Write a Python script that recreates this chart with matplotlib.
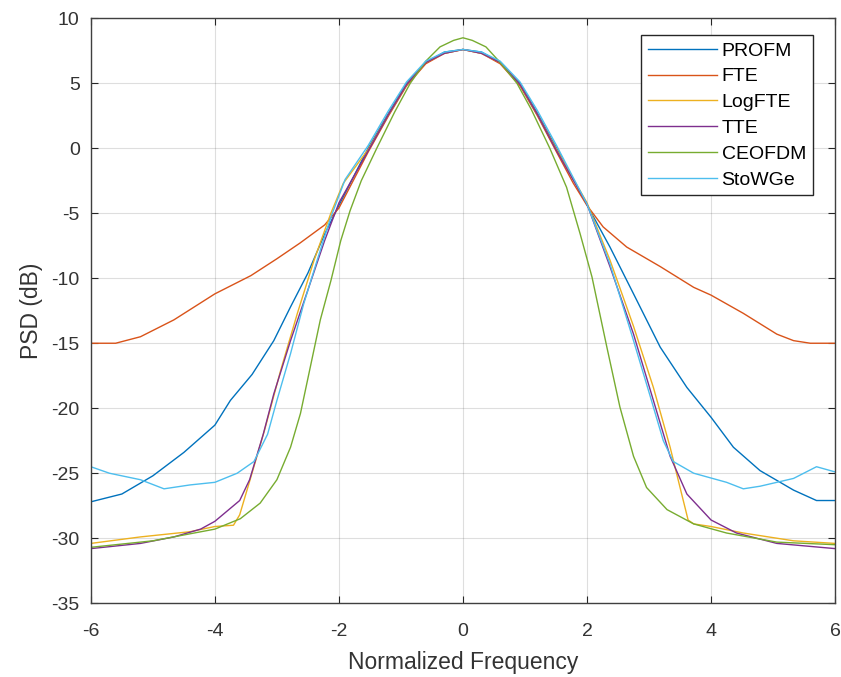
import matplotlib
matplotlib.use("Agg")
import matplotlib.pyplot as plt

plt.rcParams['font.family'] = ['Liberation Sans', 'DejaVu Sans']
plt.rcParams['axes.unicode_minus'] = False

# PSD curves (normalized frequency, dB)
profm_x = [-6, -5.5, -5, -4.5, -4, -3.75, -3.4, -3.05, -2.78, -2.5, -2.23, -2.0, -1.53, -1.2, -0.91, -0.6, -0.3, 0,
           0.3, 0.6, 0.92, 1.2, 1.51, 2.05, 2.37, 2.75, 3.18, 3.61, 4.0, 4.36, 4.79, 5.33, 5.7, 6]
profm_y = [-27.2, -26.6, -25.2, -23.4, -21.3, -19.4, -17.4, -14.8, -12.2, -9.6, -6.6, -4.4, 0, 2.7, 5.0, 6.6, 7.4, 7.6,
           7.4, 6.6, 5.0, 2.7, 0, -4.8, -7.6, -11.2, -15.3, -18.4, -20.7, -23.0, -24.8, -26.3, -27.1, -27.1]

fte_x = [-6, -5.6, -5.2, -4.66, -4, -3.42, -3.0, -2.63, -2.23, -2.0, -1.53, -1.2, -0.91, -0.6, -0.3, 0,
         0.3, 0.6, 0.92, 1.2, 1.51, 1.78, 2.0, 2.26, 2.64, 3.18, 3.72, 4.0, 4.52, 5.06, 5.33, 5.6, 6]
fte_y = [-15.0, -15.0, -14.5, -13.2, -11.2, -9.8, -8.5, -7.3, -5.9, -4.6, -0.3, 2.5, 4.8, 6.5, 7.3, 7.6,
         7.3, 6.5, 4.8, 2.5, -0.3, -2.7, -4.4, -6.05, -7.6, -9.1, -10.7, -11.3, -12.7, -14.3, -14.8, -15.0, -15.0]

logfte_x = [-6, -5.2, -4.4, -4, -3.7, -3.6, -3.42, -3.2, -2.94, -2.67, -2.4, -2.13, -1.93, -1.53, -1.2, -0.91, -0.6, -0.3, 0,
            0.3, 0.6, 0.92, 1.2, 1.51, 2.0, 2.37, 2.75, 3.07, 3.34, 3.5, 3.63, 3.72, 4.0, 4.52, 5.33, 6]
logfte_y = [-30.4, -29.9, -29.5, -29.1, -29.0, -28.2, -25.3, -21.7, -17.1, -12.7, -8.6, -5.0, -2.7, -0.1, 2.6, 4.9, 6.6, 7.3, 7.6,
            7.3, 6.6, 4.9, 2.6, -0.1, -4.2, -8.6, -13.7, -18.4, -23.0, -26.1, -28.6, -28.9, -29.1, -29.6, -30.2, -30.4]

tte_x = [-6, -5.2, -4.66, -4.23, -4, -3.6, -3.44, -3.22, -3.05, -2.78, -2.5, -2.23, -2.0, -1.53, -1.2, -0.91, -0.6, -0.3, 0,
         0.3, 0.6, 0.92, 1.2, 1.51, 2.0, 2.37, 2.75, 3.07, 3.34, 3.61, 4.0, 4.41, 5.06, 6]
tte_y = [-30.8, -30.4, -29.9, -29.3, -28.7, -27.1, -25.5, -22.0, -18.9, -14.8, -10.9, -7.1, -4.2, -0.2, 2.6, 4.9, 6.6, 7.3, 7.6,
         7.3, 6.6, 4.9, 2.6, -0.2, -4.3, -9.1, -14.3, -19.4, -23.7, -26.6, -28.6, -29.6, -30.4, -30.8]

ceofdm_x = [-6, -5, -4, -3.59, -3.27, -3.0, -2.78, -2.62, -2.46, -2.3, -2.13, -1.97, -1.82, -1.64, -1.39, -1.1, -0.85, -0.6, -0.37, -0.15, 0,
            0.15, 0.37, 0.6, 0.87, 1.1, 1.4, 1.67, 1.78, 1.89, 2.08, 2.32, 2.53, 2.75, 2.96, 3.29, 3.72, 4.25, 5.06, 6]
ceofdm_y = [-30.7, -30.2, -29.3, -28.5, -27.3, -25.5, -23.0, -20.4, -16.8, -13.2, -10.2, -7.1, -4.8, -2.5, 0, 2.8, 5.0, 6.7, 7.8, 8.3, 8.5,
            8.3, 7.8, 6.6, 5.0, 3.0, 0, -3.0, -4.8, -6.6, -9.9, -15.3, -19.9, -23.7, -26.1, -27.8, -28.9, -29.6, -30.3, -30.5]

stowge_x = [-6, -5.7, -5.5, -5.2, -4.82, -4.4, -4.0, -3.64, -3.37, -3.15, -3.0, -2.78, -2.57, -2.35, -2.13, -1.9, -1.53, -1.2, -0.91, -0.6, -0.3, 0,
            0.3, 0.6, 0.92, 1.2, 1.51, 2.0, 2.37, 2.75, 3.02, 3.23, 3.39, 3.72, 4.25, 4.52, 4.79, 5.06, 5.33, 5.7, 6]
stowge_y = [-24.5, -25.0, -25.2, -25.5, -26.2, -25.9, -25.7, -25.0, -24.1, -22.0, -19.4, -15.8, -12.0, -8.6, -5.3, -2.4, 0.2, 2.9, 5.1, 6.7, 7.4, 7.6,
            7.4, 6.7, 5.1, 2.9, 0.2, -4.3, -8.9, -14.8, -19.1, -22.5, -24.1, -25.0, -25.7, -26.2, -26.0, -25.7, -25.4, -24.5, -24.9]

series = [
    ("PROFM", profm_x, profm_y, "#0072BD"),
    ("FTE", fte_x, fte_y, "#D95319"),
    ("LogFTE", logfte_x, logfte_y, "#EDB120"),
    ("TTE", tte_x, tte_y, "#7E2F8E"),
    ("CEOFDM", ceofdm_x, ceofdm_y, "#77AC30"),
    ("StoWGe", stowge_x, stowge_y, "#4DBEEE"),
]

fig = plt.figure(figsize=(8.41, 6.77), dpi=100)
ax = fig.add_axes([0.108, 0.109, 0.885, 0.864])

for name, x, y, c in series:
    ax.plot(x, y, color=c, lw=1.0, label=name)

ax.set_xlim(-6, 6)
ax.set_ylim(-35, 10)
ax.set_xticks(range(-6, 7, 2))
ax.set_yticks(range(-35, 11, 5))
ax.grid(True, color="#262626", alpha=0.15, lw=0.8)
ax.tick_params(direction="in", length=5, width=0.8, colors="#262626", labelsize=14,
               top=True, right=True, labelcolor="#333333")
ax.tick_params(axis="x", pad=14)
ax.tick_params(axis="y", pad=8)
for s in ax.spines.values():
    s.set_color("#404040")
    s.set_linewidth(1.0)

ax.set_xlabel("Normalized Frequency", fontsize=16.5, color="#333333", labelpad=8)
ax.set_ylabel("PSD (dB)", fontsize=16.5, color="#333333", labelpad=6)

leg = ax.legend(loc="upper right", bbox_to_anchor=(0.970, 0.971), borderaxespad=0, fontsize=14,
                handlelength=3.55, labelspacing=0.42, handletextpad=0.25, borderpad=0.35,
                fancybox=False, framealpha=1)
leg.get_frame().set_edgecolor("#262626")
leg.get_frame().set_linewidth(1.0)

fig.savefig("out.png", dpi=100)
